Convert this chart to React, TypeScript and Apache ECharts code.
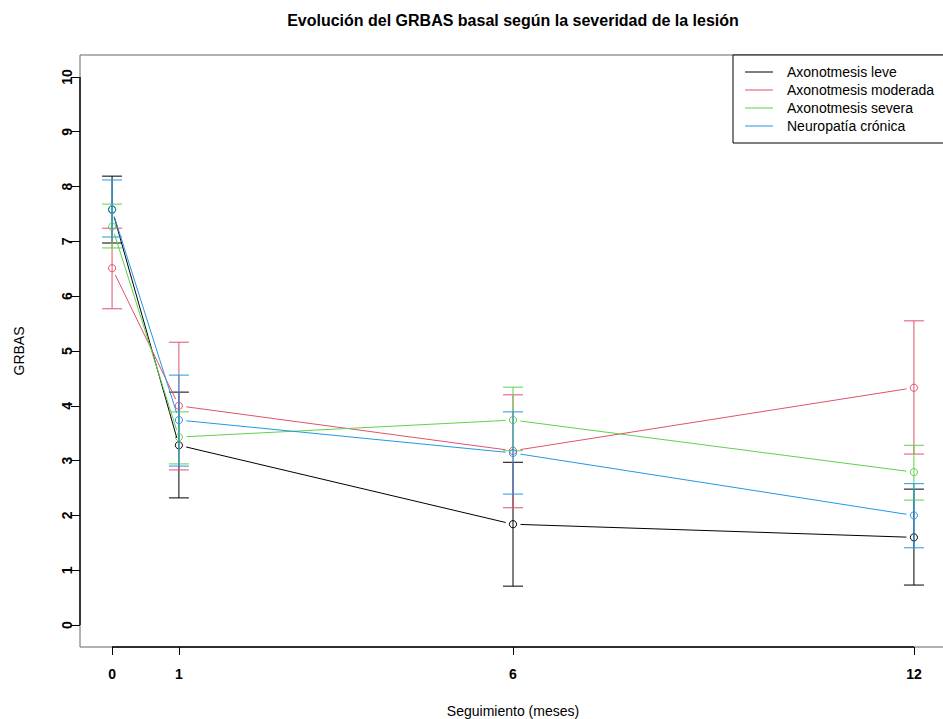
import React, { useEffect, useRef } from 'react';
import * as echarts from 'echarts';

const months = [0, 1, 6, 12];
const xTicks = [0, 1, 6, 12];
const yTicks = [0, 1, 2, 3, 4, 5, 6, 7, 8, 9, 10];
const seriesNames = ['Axonotmesis leve', 'Axonotmesis moderada', 'Axonotmesis severa', 'Neuropatía crónica'];
const colors = ['#000000', '#DF536B', '#61D04F', '#2297E6'];

const leveMean = [7.58, 3.28, 1.84, 1.6];
const leveLow = [6.97, 2.32, 0.71, 0.73];
const leveHigh = [8.19, 4.25, 2.97, 2.48];

const moderadaMean = [6.51, 4.0, 3.18, 4.33];
const moderadaLow = [5.77, 2.83, 2.14, 3.12];
const moderadaHigh = [7.24, 5.16, 4.2, 5.55];

const severaMean = [7.27, 3.43, 3.74, 2.79];
const severaLow = [6.88, 2.94, 3.18, 2.28];
const severaHigh = [7.68, 3.89, 4.34, 3.28];

const cronicaMean = [7.58, 3.74, 3.14, 2.0];
const cronicaLow = [7.08, 2.9, 2.39, 1.41];
const cronicaHigh = [8.12, 4.56, 3.89, 2.58];

const groups = [
  { mean: leveMean, low: leveLow, high: leveHigh },
  { mean: moderadaMean, low: moderadaLow, high: moderadaHigh },
  { mean: severaMean, low: severaLow, high: severaHigh },
  { mean: cronicaMean, low: cronicaLow, high: cronicaHigh },
];

const FONT = '"Liberation Sans", Arial, sans-serif';
const X_MIN = -0.48;
const X_MAX = 12.48;
const Y_MIN = -0.4;
const Y_MAX = 10.4;

export default function App() {
  const ref = useRef<HTMLDivElement>(null);
  useEffect(() => {
    document.body.style.margin = '0';
    if (!ref.current) return;
    const chart = echarts.init(ref.current, null, { renderer: 'svg' });

    const dataSeries = groups.map((g, si) => {
      const color = colors[si];
      const n = months.length;
      const data = months.map((m, i) => [
        m,
        g.mean[i],
        g.low[i],
        g.high[i],
        i < n - 1 ? months[i + 1] : m,
        i < n - 1 ? g.mean[i + 1] : g.mean[i],
      ]);
      return {
        type: 'custom',
        name: seriesNames[si],
        data,
        encode: { x: 0, y: 1 },
        clip: false,
        z: 10 + si,
        renderItem: (params: any, api: any) => {
          const idx = params.dataIndex;
          const x = api.value(0);
          const p = api.coord([x, api.value(1)]);
          const pl = api.coord([x, api.value(2)]);
          const ph = api.coord([x, api.value(3)]);
          const cap = 10;
          const st = { stroke: color, lineWidth: 1, fill: 'none' };
          const children: any[] = [
            { type: 'line', shape: { x1: pl[0], y1: pl[1], x2: ph[0], y2: ph[1] }, style: st },
            { type: 'line', shape: { x1: pl[0] - cap, y1: pl[1], x2: pl[0] + cap, y2: pl[1] }, style: st },
            { type: 'line', shape: { x1: ph[0] - cap, y1: ph[1], x2: ph[0] + cap, y2: ph[1] }, style: st },
            { type: 'circle', shape: { cx: p[0], cy: p[1], r: 3.6 }, style: st },
          ];
          if (idx < n - 1) {
            const q = api.coord([api.value(4), api.value(5)]);
            const dx = q[0] - p[0];
            const dy = q[1] - p[1];
            const len = Math.sqrt(dx * dx + dy * dy);
            const gap = 7.5;
            if (len > 2 * gap) {
              const ux = dx / len;
              const uy = dy / len;
              children.push({
                type: 'line',
                shape: { x1: p[0] + ux * gap, y1: p[1] + uy * gap, x2: q[0] - ux * gap, y2: q[1] - uy * gap },
                style: st,
              });
            }
          }
          return { type: 'group', children };
        },
      };
    });

    const axesSeries = {
      type: 'custom',
      data: [[0, 0]],
      clip: false,
      silent: true,
      z: 5,
      renderItem: (params: any, api: any) => {
        const a = api.coord([X_MIN, yTicks[0]]);
        const b = api.coord([X_MIN, yTicks[yTicks.length - 1]]);
        const c = api.coord([xTicks[0], Y_MIN]);
        const d = api.coord([xTicks[xTicks.length - 1], Y_MIN]);
        const st = { stroke: '#000', lineWidth: 1.4 };
        return {
          type: 'group',
          children: [
            { type: 'line', shape: { x1: a[0], y1: a[1], x2: b[0], y2: b[1] }, style: st },
            { type: 'line', shape: { x1: c[0], y1: c[1], x2: d[0], y2: d[1] }, style: st },
          ],
        };
      },
    };

    const legendChildren: any[] = [
      {
        type: 'rect',
        shape: { x: 733, y: 55, width: 214, height: 88 },
        style: { fill: '#fff', stroke: '#000', lineWidth: 1 },
      },
    ];
    seriesNames.forEach((name, i) => {
      const y = 72 + i * 18;
      legendChildren.push({
        type: 'line',
        shape: { x1: 745, y1: y, x2: 773, y2: y },
        style: { stroke: colors[i], lineWidth: 1 },
      });
      legendChildren.push({
        type: 'text',
        x: 787,
        y: y,
        style: {
          text: name,
          fill: '#000',
          font: `14px ${FONT}`,
          textAlign: 'left',
          textVerticalAlign: 'middle',
        },
      });
    });

    const option: any = {
      animation: false,
      backgroundColor: '#fff',
      textStyle: { fontFamily: FONT },
      grid: {
        left: 80,
        top: 55,
        width: 866,
        height: 592,
        outerBoundsMode: 'none',
        containLabel: false,
        show: true,
        borderColor: '#666',
        borderWidth: 1,
        backgroundColor: 'transparent',
      },
      xAxis: {
        type: 'value',
        min: X_MIN,
        max: X_MAX,
        position: 'bottom',
        name: 'Seguimiento (meses)',
        nameLocation: 'middle',
        nameGap: 57,
        nameTextStyle: { fontSize: 14, color: '#000', fontFamily: FONT },
        axisLine: { show: false, onZero: false },
        splitLine: { show: false },
        axisTick: { show: true, length: 8, lineStyle: { color: '#000' }, customValues: xTicks },
        axisLabel: {
          customValues: xTicks,
          fontSize: 14,
          fontWeight: 'bold',
          color: '#000',
          margin: 20,
          fontFamily: FONT,
        },
      },
      yAxis: {
        type: 'value',
        min: Y_MIN,
        max: Y_MAX,
        position: 'left',
        name: 'GRBAS',
        nameLocation: 'middle',
        nameRotate: 90,
        nameGap: 54,
        nameTextStyle: { fontSize: 14, color: '#000', fontFamily: FONT },
        axisLine: { show: false, onZero: false },
        splitLine: { show: false },
        axisTick: { show: true, length: 9, lineStyle: { color: '#000' }, customValues: yTicks },
        axisLabel: {
          customValues: yTicks,
          rotate: 90,
          fontSize: 14,
          fontWeight: 'bold',
          color: '#000',
          margin: 6,
          fontFamily: FONT,
        },
      },
      graphic: [
        {
          type: 'text',
          x: 513,
          y: 20,
          style: {
            text: 'Evolución del GRBAS basal según la severidad de la lesión',
            fill: '#000',
            font: `bold 16px ${FONT}`,
            textAlign: 'center',
            textVerticalAlign: 'middle',
          },
        },
        { type: 'group', z: 100, children: legendChildren },
      ],
      series: [axesSeries, ...dataSeries],
    };
    chart.setOption(option);
    return () => chart.dispose();
  }, []);
  return <div ref={ref} style={{ width: 943, height: 719 }} />;
}
